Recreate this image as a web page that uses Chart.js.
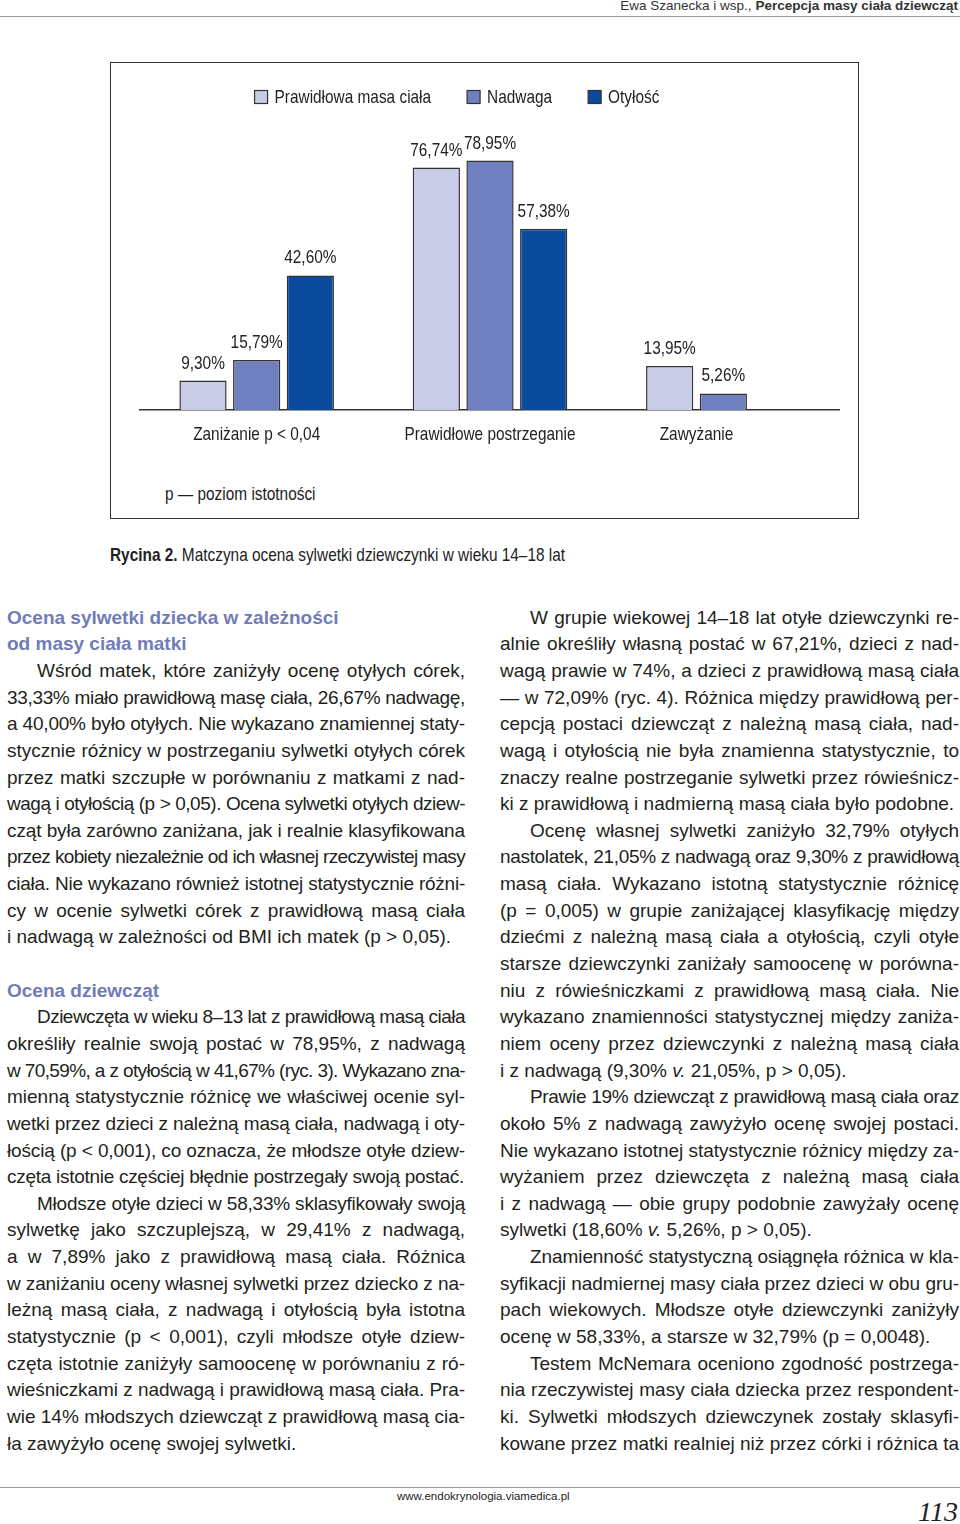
<!DOCTYPE html>
<html lang="pl">
<head>
<meta charset="utf-8">
<script src="https://cdn.jsdelivr.net/npm/chart.js@4.4.1/dist/chart.umd.min.js"></script>
<style>
  body { margin: 0; width: 960px; height: 1524px; position: relative; background: #fff; overflow: hidden;
         font-family: "Liberation Sans", Arial, Helvetica, sans-serif; color: #231f20; }
  .narrow { transform: scaleX(0.81); transform-origin: 0 0; white-space: nowrap; }
  #head { position: absolute; right: 2px; top: -2px; font-size: 13.5px; color: #333; white-space: nowrap; }
  #headLine { position: absolute; left: 0; top: 16px; width: 960px; height: 1px; background: #999; }
  #box { position: absolute; left: 110px; top: 62px; width: 747px; height: 455px; border: 1.5px solid #333; }
  #chartWrap { position: absolute; left: 74px; top: 54px; width: 766px; height: 400px; }
  #note { position: absolute; left: 165px; top: 483px; font-size: 19px; color: #222; }
  #caption { position: absolute; left: 110px; top: 544px; font-size: 19px; color: #222; }
  .col { position: absolute; top: 604.7px; width: 458px; font-size: 19px; line-height: 26.65px; }
  .col div { white-space: nowrap; text-align: justify; text-align-last: justify; height: 26.65px; }
  .col div.e { text-align-last: left; }
  .col div.i { text-indent: 30px; }
  .col div.h { color: #6f7cb8; font-weight: bold; text-align-last: left; }
  #footLine { position: absolute; left: 0; top: 1487px; width: 960px; height: 1px; background: #999; }
  #foot { position: absolute; left: 397px; top: 1490px; font-size: 11.5px; color: #222; }
  #page { position: absolute; right: 2px; top: 1496px; font-family: "Liberation Serif", serif; font-style: italic;
          font-size: 28px; color: #222; }
</style>
</head>
<body>
<div id="head">Ewa Szanecka i wsp., <b>Percepcja masy ciała dziewcząt</b></div>
<div id="headLine"></div>

<div id="box"></div>
<div id="chartWrap"><canvas id="barChart"></canvas></div>
<div id="note" class="narrow">p — poziom istotności</div>
<div id="caption" class="narrow"><b>Rycina 2.</b> Matczyna ocena sylwetki dziewczynki w wieku 14–18 lat</div>

<div class="col" style="left:7px">
  <div class="h">Ocena sylwetki dziecka w zależności</div>
  <div class="h">od masy ciała matki</div>
  <div class="i">Wśród matek, które zaniżyły ocenę otyłych córek,</div>
  <div>33,33% miało prawidłową masę ciała, 26,67% nadwagę,</div>
  <div>a 40,00% było otyłych. Nie wykazano znamiennej staty-</div>
  <div>stycznie różnicy w postrzeganiu sylwetki otyłych córek</div>
  <div>przez matki szczupłe w porównaniu z matkami z nad-</div>
  <div>wagą i otyłością (p &gt; 0,05). Ocena sylwetki otyłych dziew-</div>
  <div>cząt była zarówno zaniżana, jak i realnie klasyfikowana</div>
  <div>przez kobiety niezależnie od ich własnej rzeczywistej masy</div>
  <div>ciała. Nie wykazano również istotnej statystycznie różni-</div>
  <div>cy w ocenie sylwetki córek z prawidłową masą ciała</div>
  <div class="e">i nadwagą w zależności od BMI ich matek (p &gt; 0,05).</div>
  <div class="e">&nbsp;</div>
  <div class="h">Ocena dziewcząt</div>
  <div class="i">Dziewczęta w wieku 8–13 lat z prawidłową masą ciała</div>
  <div>określiły realnie swoją postać w 78,95%, z nadwagą</div>
  <div>w 70,59%, a z otyłością w 41,67% (ryc. 3). Wykazano zna-</div>
  <div>mienną statystycznie różnicę we właściwej ocenie syl-</div>
  <div>wetki przez dzieci z należną masą ciała, nadwagą i oty-</div>
  <div>łością (p &lt; 0,001), co oznacza, że młodsze otyłe dziew-</div>
  <div class="e">częta istotnie częściej błędnie postrzegały swoją postać.</div>
  <div class="i">Młodsze otyłe dzieci w 58,33% sklasyfikowały swoją</div>
  <div>sylwetkę jako szczuplejszą, w 29,41% z nadwagą,</div>
  <div>a w 7,89% jako z prawidłową masą ciała. Różnica</div>
  <div>w zaniżaniu oceny własnej sylwetki przez dziecko z na-</div>
  <div>leżną masą ciała, z nadwagą i otyłością była istotna</div>
  <div>statystycznie (p &lt; 0,001), czyli młodsze otyłe dziew-</div>
  <div>częta istotnie zaniżyły samoocenę w porównaniu z ró-</div>
  <div>wieśniczkami z nadwagą i prawidłową masą ciała. Pra-</div>
  <div>wie 14% młodszych dziewcząt z prawidłową masą cia-</div>
  <div class="e">ła zawyżyło ocenę swojej sylwetki.</div>
</div>

<div class="col" style="left:500px; width:459px">
  <div class="i">W grupie wiekowej 14–18 lat otyłe dziewczynki re-</div>
  <div>alnie określiły własną postać w 67,21%, dzieci z nad-</div>
  <div>wagą prawie w 74%, a dzieci z prawidłową masą ciała</div>
  <div>— w 72,09% (ryc. 4). Różnica między prawidłową per-</div>
  <div>cepcją postaci dziewcząt z należną masą ciała, nad-</div>
  <div>wagą i otyłością nie była znamienna statystycznie, to</div>
  <div>znaczy realne postrzeganie sylwetki przez rówieśnicz-</div>
  <div class="e">ki z prawidłową i nadmierną masą ciała było podobne.</div>
  <div class="i">Ocenę własnej sylwetki zaniżyło 32,79% otyłych</div>
  <div>nastolatek, 21,05% z nadwagą oraz 9,30% z prawidłową</div>
  <div>masą ciała. Wykazano istotną statystycznie różnicę</div>
  <div>(p = 0,005) w grupie zaniżającej klasyfikację między</div>
  <div>dziećmi z należną masą ciała a otyłością, czyli otyłe</div>
  <div>starsze dziewczynki zaniżały samoocenę w porówna-</div>
  <div>niu z rówieśniczkami z prawidłową masą ciała. Nie</div>
  <div>wykazano znamienności statystycznej między zaniża-</div>
  <div>niem oceny przez dziewczynki z należną masą ciała</div>
  <div class="e">i z nadwagą (9,30% <i>v.</i> 21,05%, p &gt; 0,05).</div>
  <div class="i">Prawie 19% dziewcząt z prawidłową masą ciała oraz</div>
  <div>około 5% z nadwagą zawyżyło ocenę swojej postaci.</div>
  <div>Nie wykazano istotnej statystycznie różnicy między za-</div>
  <div>wyżaniem przez dziewczęta z należną masą ciała</div>
  <div>i z nadwagą — obie grupy podobnie zawyżały ocenę</div>
  <div class="e">sylwetki (18,60% <i>v.</i> 5,26%, p &gt; 0,05).</div>
  <div class="i">Znamienność statystyczną osiągnęła różnica w kla-</div>
  <div>syfikacji nadmiernej masy ciała przez dzieci w obu gru-</div>
  <div>pach wiekowych. Młodsze otyłe dziewczynki zaniżyły</div>
  <div class="e">ocenę w 58,33%, a starsze w 32,79% (p = 0,0048).</div>
  <div class="i">Testem McNemara oceniono zgodność postrzega-</div>
  <div>nia rzeczywistej masy ciała dziecka przez respondent-</div>
  <div>ki. Sylwetki młodszych dziewczynek zostały sklasyfi-</div>
  <div>kowane przez matki realniej niż przez córki i różnica ta</div>
</div>

<div id="footLine"></div>
<div id="foot">www.endokrynologia.viamedica.pl</div>
<div id="page">113</div>

<script>
// dane wykresu
var categories = ['Zaniżanie p < 0,04', 'Prawidłowe postrzeganie', 'Zawyżanie'];
var seriesNames = ['Prawidłowa masa ciała', 'Nadwaga', 'Otyłość'];
var normalWeight = [9.30, 76.74, 13.95];
var overweight = [15.79, 78.95, 5.26];
var obesity = [42.60, 57.38, null];
var seriesColors = ['#c9cce6', '#6f7fbf', '#0b4b9e'];

// brak fontu waskiego - zwezamy zwykly Liberation Sans
var chartFont = '19px "Liberation Sans", Arial, sans-serif';
var squeeze = 0.81;

// ciasne linie tekstu: lekko zmniejsz odstep liter, zeby sie zmiescily
document.querySelectorAll('.col div').forEach(function (d) {
  d.innerHTML = '<span>' + d.innerHTML + '</span>';
  var span = d.firstChild;
  var keep = d.style.textAlignLast;
  d.style.textAlignLast = 'left';
  var indent = d.classList.contains('i') ? 30 : 0;
  var over = span.getBoundingClientRect().width + indent - d.clientWidth;
  if (over > 0) {
    var n = span.textContent.length;
    d.style.letterSpacing = (-(over + 1) / n) + 'px';
  }
  d.style.textAlignLast = keep;
});

function narrowText(ctx, text, x, y) {
  ctx.save();
  ctx.translate(x, y);
  ctx.scale(squeeze, 1);
  ctx.fillText(text, 0, 0);
  ctx.restore();
}

// wartosci nad slupkami
var valueLabels = {
  id: 'valueLabels',
  afterDatasetsDraw: function (chart) {
    var ctx = chart.ctx;
    ctx.save();
    ctx.font = chartFont;
    ctx.fillStyle = '#222';
    ctx.textAlign = 'center';
    ctx.textBaseline = 'alphabetic';
    chart.data.datasets.forEach(function (ds, i) {
      chart.getDatasetMeta(i).data.forEach(function (bar, j) {
        var v = ds.data[j];
        if (v == null) return;
        narrowText(ctx, v.toFixed(2).replace('.', ',') + '%', bar.x, bar.y - 12);
      });
    });
    ctx.restore();
  }
};

// podpisy kategorii pod osia, na srodku istniejacych slupkow
var categoryLabels = {
  id: 'categoryLabels',
  afterDraw: function (chart) {
    var ctx = chart.ctx;
    ctx.save();
    ctx.font = chartFont;
    ctx.fillStyle = '#222';
    ctx.textAlign = 'center';
    ctx.textBaseline = 'middle';
    chart.data.labels.forEach(function (label, j) {
      var xs = [];
      chart.data.datasets.forEach(function (ds, i) {
        if (ds.data[j] != null) xs.push(chart.getDatasetMeta(i).data[j].x);
      });
      var x = xs.reduce(function (a, b) { return a + b; }, 0) / xs.length;
      narrowText(ctx, label, x, chart.chartArea.bottom + 25);
    });
    ctx.restore();
  }
};

// legenda rysowana waskim pismem
var narrowLegend = {
  id: 'narrowLegend',
  afterDraw: function (chart) {
    var ctx = chart.ctx;
    var box = 13, gap = 7, spacing = 36, y = 43;
    ctx.save();
    ctx.font = chartFont;
    ctx.textBaseline = 'middle';
    ctx.textAlign = 'left';
    var items = chart.data.datasets.map(function (ds) {
      return { ds: ds, w: box + gap + ctx.measureText(ds.label).width * squeeze };
    });
    var total = items.reduce(function (a, it) { return a + it.w; }, 0) + spacing * (items.length - 1);
    var x = chart.width / 2 - total / 2;
    items.forEach(function (it) {
      ctx.fillStyle = it.ds.backgroundColor;
      ctx.fillRect(x, y - box / 2, box, box);
      ctx.strokeStyle = '#333';
      ctx.lineWidth = 1.2;
      ctx.strokeRect(x, y - box / 2, box, box);
      ctx.fillStyle = '#222';
      narrowText(ctx, it.ds.label, x + box + gap, y + 1);
      x += it.w + spacing;
    });
    ctx.restore();
  }
};

var ctx = document.getElementById('barChart').getContext('2d');

new Chart(ctx, {
  type: 'bar',
  data: {
    labels: categories,
    datasets: [
      { label: seriesNames[0], data: normalWeight, backgroundColor: seriesColors[0] },
      { label: seriesNames[1], data: overweight, backgroundColor: seriesColors[1] },
      { label: seriesNames[2], data: obesity, backgroundColor: seriesColors[2] }
    ]
  },
  options: {
    responsive: true,
    maintainAspectRatio: false,
    animation: false,
    layout: { padding: { top: 40, bottom: 36 } },
    datasets: {
      bar: {
        borderColor: '#333',
        borderWidth: 1.5,
        categoryPercentage: 0.69,
        barPercentage: 0.88
      }
    },
    plugins: {
      legend: { display: false },
      tooltip: { enabled: false }
    },
    scales: {
      x: {
        grid: { display: false },
        ticks: { display: false },
        border: { display: true, color: '#333', width: 1.5 }
      },
      y: {
        min: 0,
        max: 100,
        grid: { display: false },
        ticks: { display: false },
        border: { display: false },
        afterFit: function (scale) { scale.width = 66; }
      }
    }
  },
  plugins: [valueLabels, categoryLabels, narrowLegend]
});
</script>
</body>
</html>
